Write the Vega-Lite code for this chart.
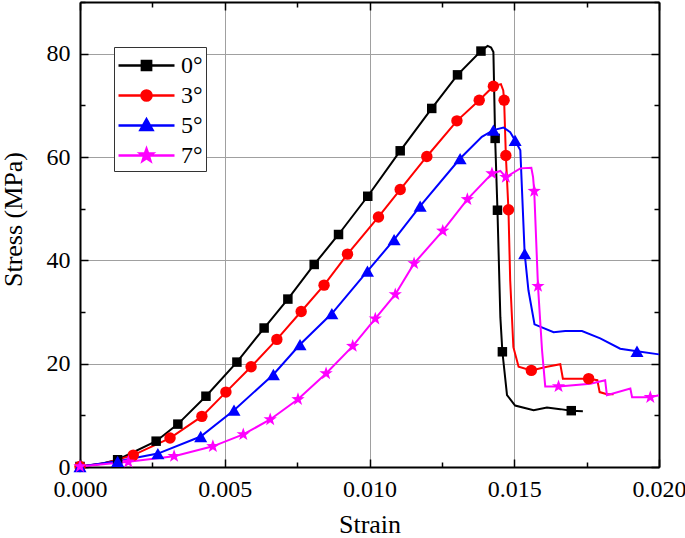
{
  "$schema": "https://vega.github.io/schema/vega-lite/v6.json",
  "width": 579,
  "height": 465,
  "autosize": {"type": "none"},
  "padding": {"left": 80, "top": 2, "right": 26, "bottom": 71},
  "background": "white",
  "config": {
    "font": "Liberation Serif",
    "view": {"stroke": null},
    "axis": {
      "labelFont": "Liberation Serif", "labelFontSize": 24, "labelColor": "black",
      "titleFont": "Liberation Serif", "titleFontSize": 26, "titleColor": "black", "titleFontWeight": "normal",
      "domainColor": "black", "domainWidth": 2, "tickColor": "black", "tickWidth": 1.5,
      "gridColor": "#a0a0a0", "gridWidth": 1, "labelFlush": false, "labelOverlap": false, "labelBound": false
    }
  },
  "data": {"values": [
    {"s":"0°","x":0,"y":0.1,"m":1},
    {"s":"0°","x":0.0007,"y":0.6,"m":0},
    {"s":"0°","x":0.0013,"y":1.4,"m":1},
    {"s":"0°","x":0.00263,"y":5.0,"m":1},
    {"s":"0°","x":0.00338,"y":8.3,"m":1},
    {"s":"0°","x":0.00435,"y":13.7,"m":1},
    {"s":"0°","x":0.00542,"y":20.3,"m":1},
    {"s":"0°","x":0.00636,"y":26.9,"m":1},
    {"s":"0°","x":0.00718,"y":32.5,"m":1},
    {"s":"0°","x":0.00809,"y":39.2,"m":1},
    {"s":"0°","x":0.00893,"y":45.0,"m":1},
    {"s":"0°","x":0.00994,"y":52.4,"m":1},
    {"s":"0°","x":0.01106,"y":61.2,"m":1},
    {"s":"0°","x":0.01215,"y":69.4,"m":1},
    {"s":"0°","x":0.01304,"y":75.9,"m":1},
    {"s":"0°","x":0.01385,"y":80.5,"m":1},
    {"s":"0°","x":0.01408,"y":81.5,"m":0},
    {"s":"0°","x":0.0142,"y":81.2,"m":0},
    {"s":"0°","x":0.01428,"y":80.3,"m":0},
    {"s":"0°","x":0.01434,"y":63.6,"m":1},
    {"s":"0°","x":0.01442,"y":49.7,"m":1},
    {"s":"0°","x":0.01452,"y":29.0,"m":0},
    {"s":"0°","x":0.01459,"y":22.3,"m":1},
    {"s":"0°","x":0.01475,"y":13.9,"m":0},
    {"s":"0°","x":0.01503,"y":11.9,"m":0},
    {"s":"0°","x":0.01567,"y":11.0,"m":0},
    {"s":"0°","x":0.01613,"y":11.5,"m":0},
    {"s":"0°","x":0.01659,"y":11.2,"m":0},
    {"s":"0°","x":0.01697,"y":10.9,"m":1},
    {"s":"0°","x":0.01737,"y":10.8,"m":0},

    {"s":"3°","x":0,"y":0.1,"m":1},
    {"s":"3°","x":0.0009,"y":0.8,"m":0},
    {"s":"3°","x":0.00184,"y":2.3,"m":1},
    {"s":"3°","x":0.00311,"y":5.6,"m":1},
    {"s":"3°","x":0.00421,"y":9.8,"m":1},
    {"s":"3°","x":0.00504,"y":14.5,"m":1},
    {"s":"3°","x":0.00591,"y":19.4,"m":1},
    {"s":"3°","x":0.0068,"y":24.7,"m":1},
    {"s":"3°","x":0.00764,"y":30.1,"m":1},
    {"s":"3°","x":0.00843,"y":35.2,"m":1},
    {"s":"3°","x":0.00924,"y":41.2,"m":1},
    {"s":"3°","x":0.01031,"y":48.4,"m":1},
    {"s":"3°","x":0.01106,"y":53.7,"m":1},
    {"s":"3°","x":0.01198,"y":60.1,"m":1},
    {"s":"3°","x":0.01302,"y":67.0,"m":1},
    {"s":"3°","x":0.01379,"y":71.0,"m":1},
    {"s":"3°","x":0.01428,"y":73.7,"m":1},
    {"s":"3°","x":0.01454,"y":74.1,"m":0},
    {"s":"3°","x":0.01462,"y":72.9,"m":0},
    {"s":"3°","x":0.01465,"y":71.0,"m":1},
    {"s":"3°","x":0.01471,"y":60.3,"m":1},
    {"s":"3°","x":0.0148,"y":49.8,"m":1},
    {"s":"3°","x":0.01486,"y":36.1,"m":0},
    {"s":"3°","x":0.01497,"y":23.2,"m":0},
    {"s":"3°","x":0.01515,"y":19.4,"m":0},
    {"s":"3°","x":0.01559,"y":18.7,"m":1},
    {"s":"3°","x":0.01613,"y":19.4,"m":0},
    {"s":"3°","x":0.01659,"y":19.9,"m":0},
    {"s":"3°","x":0.01668,"y":17.1,"m":0},
    {"s":"3°","x":0.01757,"y":17.1,"m":1},
    {"s":"3°","x":0.01787,"y":16.8,"m":0},
    {"s":"3°","x":0.01795,"y":14.5,"m":0},
    {"s":"3°","x":0.0182,"y":14.1,"m":0},
    {"s":"3°","x":0.01843,"y":14.1,"m":0},

    {"s":"5°","x":0,"y":0.1,"m":1},
    {"s":"5°","x":0.0013,"y":1.1,"m":1},
    {"s":"5°","x":0.00269,"y":2.6,"m":1},
    {"s":"5°","x":0.00417,"y":5.9,"m":1},
    {"s":"5°","x":0.00532,"y":11.0,"m":1},
    {"s":"5°","x":0.00668,"y":17.9,"m":1},
    {"s":"5°","x":0.0076,"y":23.7,"m":1},
    {"s":"5°","x":0.0087,"y":29.7,"m":1},
    {"s":"5°","x":0.00993,"y":37.9,"m":1},
    {"s":"5°","x":0.01085,"y":44.0,"m":1},
    {"s":"5°","x":0.01175,"y":50.5,"m":1},
    {"s":"5°","x":0.01313,"y":59.7,"m":1},
    {"s":"5°","x":0.01388,"y":63.9,"m":0},
    {"s":"5°","x":0.01428,"y":65.2,"m":1},
    {"s":"5°","x":0.01463,"y":65.7,"m":0},
    {"s":"5°","x":0.01486,"y":64.8,"m":0},
    {"s":"5°","x":0.01503,"y":63.2,"m":1},
    {"s":"5°","x":0.01521,"y":61.3,"m":0},
    {"s":"5°","x":0.01536,"y":41.3,"m":1},
    {"s":"5°","x":0.01549,"y":34.2,"m":0},
    {"s":"5°","x":0.0157,"y":27.6,"m":0},
    {"s":"5°","x":0.01636,"y":26.1,"m":0},
    {"s":"5°","x":0.01676,"y":26.3,"m":0},
    {"s":"5°","x":0.01734,"y":26.3,"m":0},
    {"s":"5°","x":0.01797,"y":24.9,"m":0},
    {"s":"5°","x":0.01866,"y":22.9,"m":0},
    {"s":"5°","x":0.01924,"y":22.4,"m":1},
    {"s":"5°","x":0.02,"y":21.8,"m":0},

    {"s":"7°","x":0,"y":0.1,"m":1},
    {"s":"7°","x":0.00167,"y":1.0,"m":1},
    {"s":"7°","x":0.00325,"y":2.1,"m":1},
    {"s":"7°","x":0.00459,"y":4.0,"m":1},
    {"s":"7°","x":0.00564,"y":6.3,"m":1},
    {"s":"7°","x":0.00657,"y":9.2,"m":1},
    {"s":"7°","x":0.00753,"y":13.1,"m":1},
    {"s":"7°","x":0.0085,"y":18.1,"m":1},
    {"s":"7°","x":0.00942,"y":23.4,"m":1},
    {"s":"7°","x":0.0102,"y":28.7,"m":1},
    {"s":"7°","x":0.01089,"y":33.4,"m":1},
    {"s":"7°","x":0.01154,"y":39.4,"m":1},
    {"s":"7°","x":0.01253,"y":45.7,"m":1},
    {"s":"7°","x":0.01338,"y":51.8,"m":1},
    {"s":"7°","x":0.01423,"y":56.8,"m":1},
    {"s":"7°","x":0.01452,"y":57.3,"m":0},
    {"s":"7°","x":0.01471,"y":56.1,"m":1},
    {"s":"7°","x":0.01521,"y":57.8,"m":0},
    {"s":"7°","x":0.01559,"y":57.9,"m":0},
    {"s":"7°","x":0.01565,"y":56.1,"m":0},
    {"s":"7°","x":0.01569,"y":53.4,"m":1},
    {"s":"7°","x":0.01582,"y":35.0,"m":1},
    {"s":"7°","x":0.01596,"y":22.6,"m":0},
    {"s":"7°","x":0.01607,"y":15.6,"m":0},
    {"s":"7°","x":0.01653,"y":15.6,"m":1},
    {"s":"7°","x":0.01763,"y":16.1,"m":0},
    {"s":"7°","x":0.01814,"y":16.8,"m":0},
    {"s":"7°","x":0.0182,"y":13.9,"m":0},
    {"s":"7°","x":0.01901,"y":15.2,"m":0},
    {"s":"7°","x":0.01907,"y":13.5,"m":0},
    {"s":"7°","x":0.0197,"y":13.5,"m":1},
    {"s":"7°","x":0.02,"y":13.9,"m":0}
  ]},
  "resolve": {"axis": {"x": "independent", "y": "independent"}},
  "layer": [
    {
      "mark": {"type": "line", "strokeWidth": 2},
      "encoding": {
        "x": {"field": "x", "type": "quantitative", "scale": {"domain": [0, 0.02], "nice": false, "zero": false},
          "axis": {"orient": "bottom", "values": [0, 0.005, 0.01, 0.015, 0.02], "format": ".3f", "tickSize": -8, "labelPadding": 18, "grid": true, "domain": true,
            "title": "Strain", "titleY": 65, "titleBaseline": "alphabetic"}},
        "y": {"field": "y", "type": "quantitative", "scale": {"domain": [0, 90], "nice": false, "zero": false},
          "axis": {"orient": "left", "values": [0, 20, 40, 60, 80], "tickSize": -8, "labelPadding": 18, "grid": true, "domain": true,
            "title": "Stress (MPa)", "titleX": -59, "titleY": 217, "titleAngle": -90, "titleBaseline": "alphabetic", "titleAlign": "center"}},
        "color": {"field": "s", "type": "nominal",
          "scale": {"domain": ["0°", "3°", "5°", "7°"], "range": ["#000000", "#ff0000", "#0000ff", "#ff00ff"]},
          "legend": {"orient": "none", "legendX": 34, "legendY": 45, "title": null, "padding": 3, "rowPadding": 2,
            "strokeColor": "#333333", "fillColor": "white", "symbolSize": 784, "symbolStrokeWidth": 2.5, "symbolOffset": 0,
            "symbolType": "M-1,0H3",
            "labelFont": "Liberation Serif", "labelFontSize": 24, "labelColor": "black", "labelOffset": 33,
            "encode": {"symbols": {"update": {
              "shape": {"signal": "datum.value === '0°' ? 'M-1,0H3M0.67,-0.33H1.33V0.33H0.67Z' : datum.value === '3°' ? 'M-1,0H3M1.36,0A0.36,0.36,0,1,1,0.64,0A0.36,0.36,0,1,1,1.36,0Z' : datum.value === '5°' ? 'M-1,0H3M1,-0.44L1.43,0.32H0.57Z' : 'M-1,0H3M1,-0.47L1.112,-0.154L1.447,-0.145L1.181,0.059L1.276,0.38L1,0.19L0.724,0.38L0.819,0.059L0.553,-0.145L0.888,-0.154Z'"},
              "fill": {"scale": "color", "field": "value"},
              "stroke": {"scale": "color", "field": "value"},
              "strokeWidth": {"value": 2.5},
              "opacity": {"value": 1}
            }}}}}
      }
    },
    {
      "transform": [{"filter": "datum.m == 1 && datum.s == '0°'"}],
      "mark": {"type": "point", "shape": "square", "filled": true, "opacity": 1, "size": 90},
      "encoding": {
        "x": {"field": "x", "type": "quantitative", "scale": {"domain": [0, 0.02], "nice": false, "zero": false},
          "axis": {"orient": "bottom", "values": [0.0025, 0.0075, 0.0125, 0.0175], "tickSize": -5, "labels": false, "grid": false, "domain": false, "title": null}},
        "y": {"field": "y", "type": "quantitative", "scale": {"domain": [0, 90], "nice": false, "zero": false},
          "axis": {"orient": "left", "values": [10, 30, 50, 70, 90], "tickSize": -5, "labels": false, "grid": false, "domain": false, "title": null}},
        "color": {"field": "s", "type": "nominal", "legend": null}
      }
    },
    {
      "transform": [{"filter": "datum.m == 1 && datum.s == '3°'"}],
      "mark": {"type": "point", "shape": "circle", "filled": true, "opacity": 1, "size": 130},
      "encoding": {
        "x": {"field": "x", "type": "quantitative", "scale": {"domain": [0, 0.02], "nice": false, "zero": false},
          "axis": {"orient": "top", "values": [0, 0.005, 0.01, 0.015, 0.02], "tickSize": -8, "labels": false, "grid": false, "domain": true, "title": null}},
        "y": {"field": "y", "type": "quantitative", "scale": {"domain": [0, 90], "nice": false, "zero": false},
          "axis": {"orient": "right", "values": [0, 20, 40, 60, 80], "tickSize": -8, "labels": false, "grid": false, "domain": true, "title": null}},
        "color": {"field": "s", "type": "nominal", "legend": null}
      }
    },
    {
      "transform": [{"filter": "datum.m == 1 && datum.s == '5°'"}],
      "mark": {"type": "point", "shape": "triangle-up", "filled": true, "opacity": 1, "size": 170},
      "encoding": {
        "x": {"field": "x", "type": "quantitative", "scale": {"domain": [0, 0.02], "nice": false, "zero": false},
          "axis": {"orient": "top", "values": [0.0025, 0.0075, 0.0125, 0.0175], "tickSize": -5, "labels": false, "grid": false, "domain": false, "title": null}},
        "y": {"field": "y", "type": "quantitative", "scale": {"domain": [0, 90], "nice": false, "zero": false},
          "axis": {"orient": "right", "values": [10, 30, 50, 70, 90], "tickSize": -5, "labels": false, "grid": false, "domain": false, "title": null}},
        "color": {"field": "s", "type": "nominal", "legend": null}
      }
    },
    {
      "transform": [{"filter": "datum.m == 1 && datum.s == '7°'"}],
      "mark": {"type": "point", "shape": "M0,-1L0.235,-0.324L0.951,-0.309L0.38,0.124L0.588,0.809L0,0.4L-0.588,0.809L-0.38,0.124L-0.951,-0.309L-0.235,-0.324Z", "filled": true, "opacity": 1, "size": 196},
      "encoding": {
        "x": {"field": "x", "type": "quantitative", "scale": {"domain": [0, 0.02], "nice": false, "zero": false}, "axis": null},
        "y": {"field": "y", "type": "quantitative", "scale": {"domain": [0, 90], "nice": false, "zero": false}, "axis": null},
        "color": {"field": "s", "type": "nominal", "legend": null}
      }
    }
  ]
}
